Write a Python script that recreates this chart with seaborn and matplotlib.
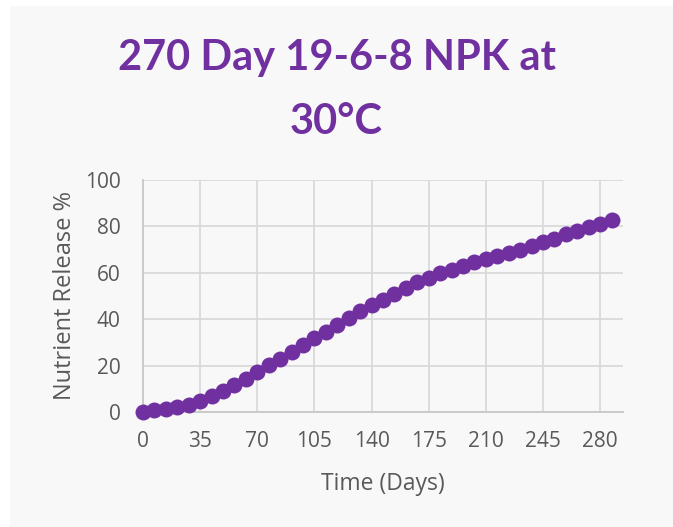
import numpy as np
import pandas as pd
import seaborn as sns
import matplotlib.pyplot as plt
from matplotlib.patches import Rectangle

# weekly readings
days = list(range(0, 288, 7))
release = [0.0, 1.0, 1.3, 2.0, 3.1, 4.9, 7.0, 9.0, 11.6, 14.4,
           17.1, 20.1, 22.7, 25.9, 28.9, 31.9, 34.6, 37.7, 40.6, 43.4,
           46.0, 48.4, 51.0, 53.6, 55.9, 57.6, 59.9, 61.3, 63.0, 64.6,
           65.9, 67.1, 68.6, 69.9, 71.4, 73.1, 74.6, 76.6, 78.0, 79.6,
           81.0, 82.6]
x_ticks = [0, 35, 70, 105, 140, 175, 210, 245, 280]
y_ticks = [0, 20, 40, 60, 80, 100]

df = pd.DataFrame({"Days": days, "Release": release})

sns.set_theme(style="white")
plt.rcParams['font.family'] = ['Open Sans', 'DejaVu Sans']

purple = "#7030A0"
grey_txt = "#595959"

fig = plt.figure(figsize=(6.73, 5.27), dpi=100, facecolor="#f8f8f8")
# white strip on left/top like the screenshot
fig.patches.append(Rectangle((0, 0), 10 / 673, 1, transform=fig.transFigure,
                             facecolor="white", edgecolor="none", zorder=0))
fig.patches.append(Rectangle((0, 1 - 6 / 527), 1, 6 / 527, transform=fig.transFigure,
                             facecolor="white", edgecolor="none", zorder=0))

ax = fig.add_axes([143 / 673, 1 - 412 / 527, (623 - 143) / 673, (412 - 180) / 527])
ax.set_facecolor("#f8f8f8")

sns.lineplot(data=df, x="Days", y="Release", ax=ax, color=purple, linewidth=3,
             marker="o", markersize=11.5, markeredgewidth=0, clip_on=False, zorder=3)

ax.set_xlim(0, 294)
ax.set_ylim(0, 100)
ax.set_xticks(x_ticks)
ax.set_yticks(y_ticks)
ax.grid(True, color="#d9d9d9", linewidth=1.3)
ax.tick_params(axis="both", labelsize=15, colors=grey_txt, length=0)
ax.tick_params(axis="x", pad=14)
ax.tick_params(axis="y", pad=16)
for s in ["top", "right"]:
    ax.spines[s].set_visible(False)
for s in ["left", "bottom"]:
    ax.spines[s].set_color("#c8c8c8")
    ax.spines[s].set_linewidth(1.3)

ax.set_xlabel("Time (Days)", fontsize=16.5, color=grey_txt, labelpad=14)
ax.set_ylabel("Nutrient Release %", fontsize=17, color=grey_txt, labelpad=6)

fig.text(0.5, 1 - 58 / 527, "270 Day 19-6-8 NPK at", ha="center", va="center",
         fontsize=30, fontweight="bold", color=purple, family=["Lato", "DejaVu Sans"])
fig.text(0.5, 1 - 122 / 527, "30°C", ha="center", va="center",
         fontsize=30, fontweight="bold", color=purple, family=["Lato", "DejaVu Sans"])

plt.savefig("out.png", dpi=100, facecolor=fig.get_facecolor())
